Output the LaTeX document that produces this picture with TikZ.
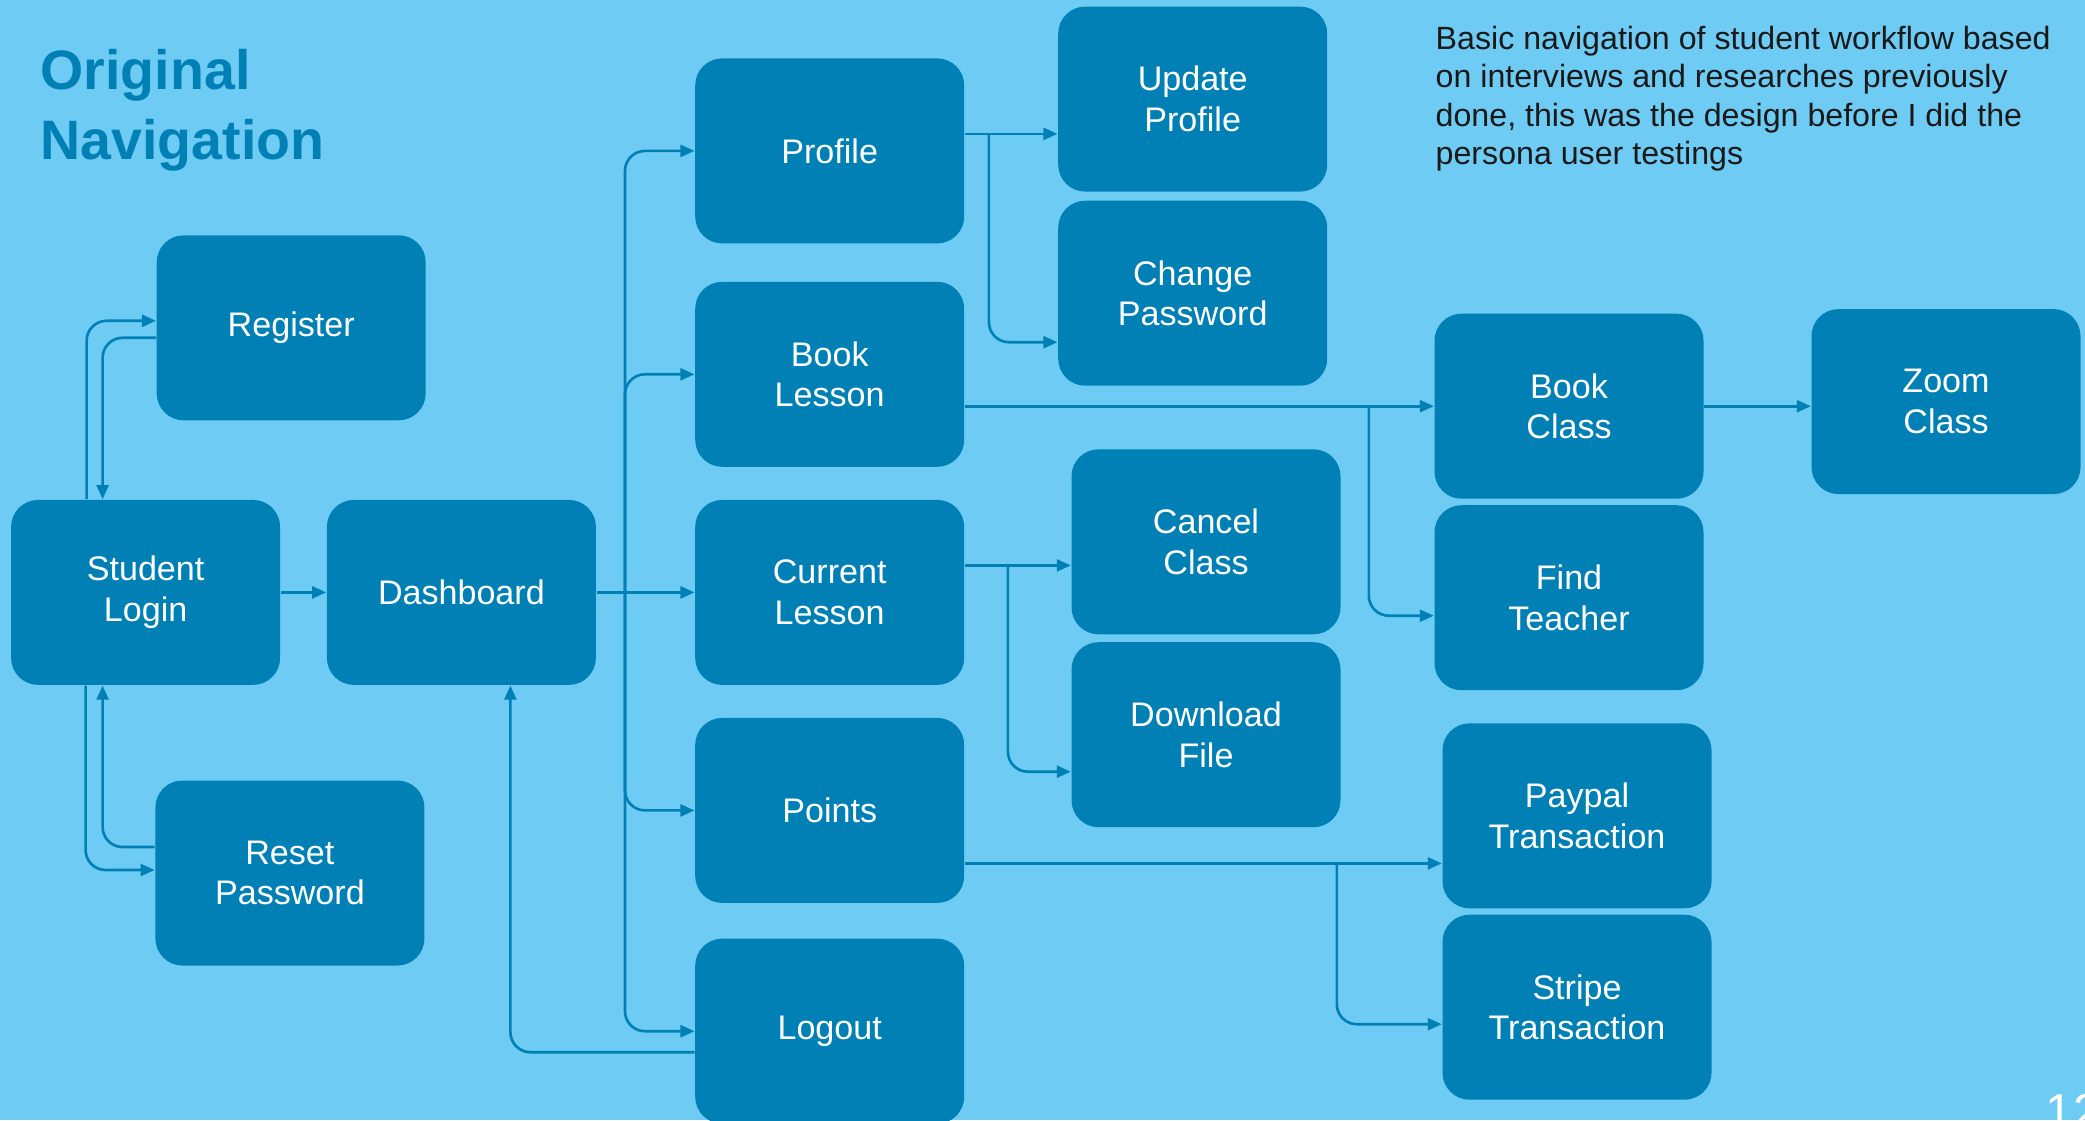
\documentclass[tikz,border=0pt]{standalone}
\usepackage{fontspec}
\setmainfont{Liberation Sans}
\usetikzlibrary{calc,arrows.meta}
\definecolor{bg}{HTML}{6ECBF3}
\definecolor{boxblue}{HTML}{0080B4}

\begin{document}
\begin{tikzpicture}[
  box/.style={fill=boxblue, rounded corners=0.27cm, minimum width=2.69cm,
    minimum height=1.85cm, text=white, align=center,
    font=\fontsize{9.7}{11.6}\selectfont},
  link/.style={draw=boxblue, line width=0.75pt, rounded corners=0.2cm,
    -{Triangle[length=4pt,width=3.4pt]}}
]
  \useasboundingbox (0,0) rectangle (20.85,-11.2);
  \fill[bg] (0,0) rectangle (20.85,-11.2);

  \node[anchor=north west, inner sep=0, align=left, text=boxblue,
    font=\bfseries\fontsize{15.8}{19.8}\selectfont] (title) at (0.40,-0.49) {Original\\Navigation};
  \node[anchor=north west, inner sep=0, align=left, text=black!90,
    font=\fontsize{9.15}{11}\selectfont] (note) at (14.35,-0.25)
    {Basic navigation of student workflow based\\on interviews and researches previously\\done, this was the design before I did the\\persona user testings};
  \node[anchor=north west, inner sep=0, text=white,
    font=\fontsize{14}{14}\selectfont] (pagenum) at (20.45,-10.93) {12};

  % 左侧登录部分
  \node[box] (login)     at (1.456,-5.924) {Student\\Login};
  \node[box] (register)  at (2.912,-3.278) {Register};
  \node[box] (reset)     at (2.899,-8.730) {Reset\\Password};
  \node[box] (dashboard) at (4.614,-5.924) {Dashboard};
  % 主菜单
  \node[box] (profile)    at (8.297,-1.509)  {Profile};
  \node[box] (booklesson) at (8.297,-3.743)  {Book\\Lesson};
  \node[box] (current)    at (8.297,-5.924)  {Current\\Lesson};
  \node[box] (points)     at (8.297,-8.104)  {Points};
  \node[box] (logout)     at (8.297,-10.312) {Logout};
  % 子页面
  \node[box] (update)    at (11.927,-0.991) {Update\\Profile};
  \node[box] (changepw)  at (11.927,-2.932) {Change\\Password};
  \node[box] (cancel)    at (12.060,-5.418) {Cancel\\Class};
  \node[box] (download)  at (12.060,-7.347) {Download\\File};
  \node[box] (bookclass) at (15.690,-4.062) {Book\\Class};
  \node[box] (teacher)   at (15.690,-5.977) {Find\\Teacher};
  \node[box] (zoom)      at (19.460,-4.016) {Zoom\\Class};
  \node[box] (paypal)    at (15.770,-8.158) {Paypal\\Transaction};
  \node[box] (stripe)    at (15.770,-10.072) {Stripe\\Transaction};

  \draw[link] ([xshift=-0.59cm]login.north) |- ([yshift=0.07cm]register.west);
  \draw[link] ([yshift=-0.1cm]register.west) -| ([xshift=-0.43cm]login.north);
  \draw[link] ([xshift=-0.6cm]login.south) |- ([yshift=0.03cm]reset.west);
  \draw[link] ([yshift=0.26cm]reset.west) -| ([xshift=-0.43cm]login.south);
  \draw[link] (login.east) -- (dashboard.west);

  \coordinate (fork) at ($(dashboard.east)!0.29!(current.west)$);
  \draw[link] (dashboard.east) -- (current.west);
  \foreach \n in {profile, booklesson, points, logout}
    \draw[link] (fork) |- (\n.west);
  \draw[link] ([yshift=-0.21cm]logout.west) -| ([xshift=0.49cm]dashboard.south);

  \coordinate (pf) at ([yshift=0.17cm]profile.east);
  \draw[link] (pf) -- (pf -| update.west);
  \draw[link] ($(pf)+(0.24,0)$) |- ([yshift=-0.49cm]changepw.west);

  \coordinate (bl) at (booklesson.east |- bookclass.west);
  \draw[link] (bl) -- (bookclass.west);
  \draw[link] ([xshift=-0.65cm]bookclass.west) |- ([yshift=-0.18cm]teacher.west);
  \draw[link] (bookclass.east) -- (bookclass.east -| zoom.west);

  \coordinate (cl) at ([yshift=0.27cm]current.east);
  \draw[link] (cl) -- (cl -| cancel.west);
  \draw[link] ($(cl)+(0.43,0)$) |- ([yshift=-0.37cm]download.west);

  \coordinate (pt) at ([yshift=-0.53cm]points.east);
  \coordinate (ptfork) at ($(pt -| paypal.west)+(-1.05,0)$);
  \draw[link] (pt) -- (pt -| paypal.west);
  \draw[link] (ptfork) |- ([yshift=-0.17cm]stripe.west);
\end{tikzpicture}
\end{document}
